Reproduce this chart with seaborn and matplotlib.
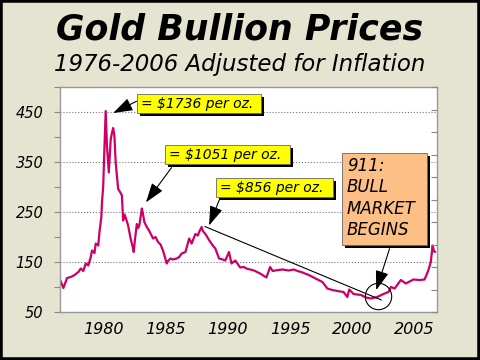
import matplotlib
matplotlib.use('Agg')
import matplotlib.pyplot as plt
import matplotlib.patches as mpatches
import seaborn as sns
import pandas as pd

# gold price, inflation adjusted
years = [1976.5, 1976.8, 1977.1, 1977.4, 1977.7, 1978.0, 1978.2, 1978.4, 1978.6, 1978.8,
         1979.0, 1979.1, 1979.3, 1979.4, 1979.6, 1979.7, 1979.85, 1979.9, 1980.0, 1980.1,
         1980.2, 1980.3, 1980.45, 1980.6, 1980.7, 1980.8, 1980.9, 1981.0, 1981.2, 1981.4,
         1981.5, 1981.6, 1981.7, 1981.8, 1982.0, 1982.2, 1982.35, 1982.45, 1982.55, 1982.7,
         1982.8, 1982.9, 1983.1, 1983.2, 1983.3, 1983.5, 1983.7, 1984.0, 1984.2, 1984.4,
         1984.6, 1984.8, 1985.1, 1985.2, 1985.4, 1985.6, 1985.9, 1986.1, 1986.3, 1986.6,
         1986.9, 1987.1, 1987.4, 1987.6, 1987.7, 1987.9, 1988.0, 1988.2, 1988.4, 1988.6,
         1988.8, 1989.0, 1989.3, 1989.6, 1989.8, 1990.1, 1990.3, 1990.6, 1991.0, 1991.3,
         1991.5, 1992.1, 1992.6, 1993.1, 1993.4, 1993.6, 1993.8, 1994.4, 1994.9, 1995.3,
         1995.6, 1995.9, 1996.5, 1997.05, 1997.6, 1998.0, 1998.4, 1998.8, 1999.3, 1999.6,
         1999.75, 2000.1, 2000.7, 2001.1, 2001.5, 2002.0, 2002.5, 2002.9, 2003.1, 2003.4,
         2003.9, 2004.3, 2004.9, 2005.4, 2005.8, 2006.1, 2006.3, 2006.45, 2006.55, 2006.65]
prices = [117, 98, 118, 120, 124, 130, 137, 132, 147, 143,
          160, 173, 168, 187, 183, 210, 240, 269, 302, 380,
          452, 382, 329, 395, 408, 418, 402, 349, 296, 288,
          283, 233, 245, 239, 223, 197, 182, 170, 195, 226,
          218, 223, 257, 245, 230, 220, 212, 197, 200, 190,
          185, 173, 147, 152, 157, 155, 157, 160, 167, 170,
          197, 187, 206, 203, 210, 220, 212, 206, 198, 190,
          183, 177, 157, 155, 153, 170, 147, 153, 139, 140,
          137, 133, 127, 119, 140, 132, 133, 135, 133, 135,
          132, 130, 124, 117, 110, 97, 94, 92, 90, 80,
          95, 86, 84, 79, 77, 80, 86, 90, 100, 97,
          114, 107, 115, 114, 115, 133, 150, 183, 172, 170]

y_ticks = [50, 150, 250, 350, 450]
x_ticks = [1980, 1985, 1990, 1995, 2000, 2005]

callouts = ['= $1736 per oz.', '= $1051 per oz.', '= $856 per oz.']
bull_lines = ['911:', 'BULL', 'MARKET', 'BEGINS']

df = pd.DataFrame({'year': years, 'price': prices})

sns.set_style('white')
plt.rcParams['font.family'] = ['DejaVu Sans']
plt.rcParams['text.color'] = 'black'

W, H = 480, 360
fig = plt.figure(figsize=(4.8, 3.6), dpi=100)
bg = '#E4E4D0'
fig.patch.set_facecolor(bg)

def fx(x):
    return x / W

def fy(y):
    return 1 - y / H

ax = fig.add_axes([fx(60), fy(312), fx(437) - fx(60), fy(87) - fy(312)])
ax.set_facecolor('white')

sns.lineplot(data=df, x='year', y='price', ax=ax, color='#CC0066', lw=1.6)

ax.set_xlim(1976.53, 2006.8)
ax.set_ylim(50, 500)
ax.set_xticks(x_ticks)
ax.set_xticklabels([str(t) for t in x_ticks], fontsize=11.5, style='oblique')
ax.set_yticks(y_ticks)
ax.set_yticklabels([str(t) for t in y_ticks], fontsize=10.5, style='oblique')
ax.set_yticks([100, 200, 300, 400, 500], minor=True)
ax.tick_params(axis='y', which='both', direction='out', length=4, width=0.8,
               color='#888888', labelcolor='black', pad=8, left=True)
ax.tick_params(axis='x', length=0, pad=7, labelcolor='black')
ax.set_xlabel('')
ax.set_ylabel('')
ax.grid(axis='y', which='major', ls=':', color='#777777', lw=0.8)
ax.grid(axis='x', visible=False)
for s in ax.spines.values():
    s.set_color('#999999')
    s.set_linewidth(1)

# right side ticks (no labels)
ax2 = ax.twinx()
ax2.set_ylim(0, 10)
ax2.set_yticks(range(0, 11))
ax2.set_yticklabels([])
ax2.tick_params(axis='y', direction='in', length=4, width=0.8, color='#888888')
ax2.grid(False)
for s in ax2.spines.values():
    s.set_visible(False)

# trend line + circle
ax.plot([1988.16, 2002.33], [221, 74], color='black', lw=0.8)
ax.plot([2002.06], [81.8], marker='o', ms=19, mfc='none', mec='black', mew=0.8)

arrow = dict(arrowstyle='-|>,head_length=0.8,head_width=0.27', color='black', lw=0.8,
             mutation_scale=15, shrinkA=0, shrinkB=0)
ax.annotate('', xy=(1980.8, 448), xytext=(1982.68, 471.5), arrowprops=arrow)
ax.annotate('', xy=(1983.43, 269.3), xytext=(1985.49, 338.9), arrowprops=arrow)
ax.annotate('', xy=(1988.5, 223), xytext=(1989.36, 276.6), arrowprops=arrow)
ax.annotate('', xy=(2001.92, 93.7), xytext=(2002.99, 176.6), arrowprops=arrow)

def box(x0, y0, x1, y1, color):
    sh = mpatches.Rectangle((fx(x0 + 3), fy(y1 + 3)), fx(x1 - x0), fy(y0) - fy(y1),
                            transform=fig.transFigure, facecolor='black', lw=0, zorder=5)
    bx = mpatches.Rectangle((fx(x0), fy(y1)), fx(x1 - x0), fy(y0) - fy(y1),
                            transform=fig.transFigure, facecolor=color,
                            edgecolor='#666666', lw=0.6, zorder=6)
    fig.patches.extend([sh, bx])

yellow_boxes = [(137, 94, 261, 113), (165, 145, 290, 164), (216, 178, 333, 197)]
for (x0, y0, x1, y1), label in zip(yellow_boxes, callouts):
    box(x0, y0, x1, y1, '#FFFF00')
    fig.text(fx(x0 + 4), fy((y0 + y1) / 2 + 0.5), label, fontsize=10, style='oblique',
             ha='left', va='center', zorder=7)

box(342, 153, 427, 245, '#FCBF85')
for i, line in enumerate(bull_lines):
    fig.text(fx(347), fy(166 + i * 21.3), line, fontsize=12, style='oblique',
             ha='left', va='center', zorder=7)

fig.text(0.5, fy(30), 'Gold Bullion Prices', fontsize=25, fontweight='bold',
         style='oblique', ha='center', va='center')
fig.text(0.5, fy(65), '1976-2006 Adjusted for Inflation', fontsize=16.5,
         style='oblique', ha='center', va='center')

fig.patches.append(mpatches.Rectangle((0, 0), 1, 1, transform=fig.transFigure,
                                      fill=False, edgecolor='black', lw=4, zorder=10))

plt.savefig('out.png', dpi=100, facecolor=bg)
plt.close()
